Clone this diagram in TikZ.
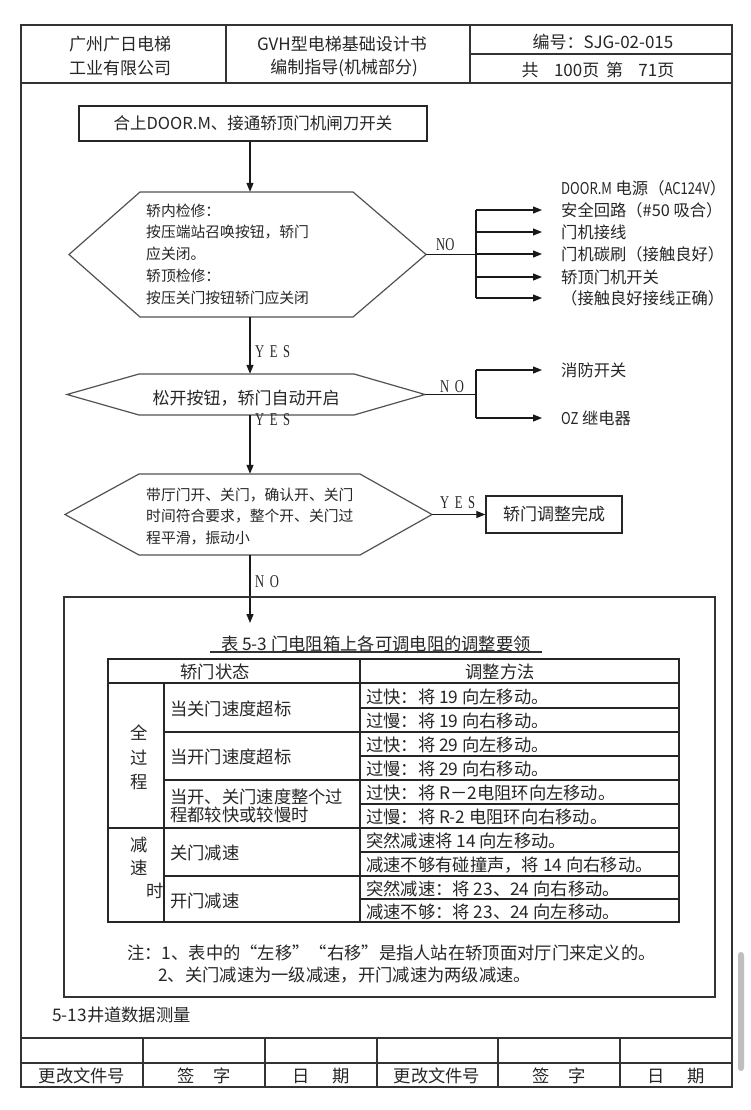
\documentclass[tikz,border=0pt]{standalone}
\usepackage{fontspec}
\usepackage{graphicx}
\setmainfont{Noto Sans CJK SC}
\newfontfamily\latinserif{Liberation Serif}
\usetikzlibrary{arrows.meta,calc}
\newcommand{\cond}[1]{\scalebox{0.7}[1]{\latinserif #1}}
\newcommand{\nlat}[1]{\scalebox{0.8}[1]{#1}}
\begin{document}
\begin{tikzpicture}[x=1pt,y=-1pt,
  frame/.style={line width=1.1pt, draw=black!80},
  fline/.style={line width=1.2pt, draw=black!90},
  arr/.style={line width=1.2pt, draw=black!90, -{Triangle[length=9pt,width=7pt]}},
  hexline/.style={line width=1.2pt, draw=black!68},
  tline/.style={line width=1.2pt, draw=black!85},
  box/.style={draw=black!85, line width=1.3pt, inner sep=0pt, anchor=center},
  ghost/.style={inner sep=0pt, anchor=center},
  ftxt/.style={font=\fontsize{14.8}{21.8}\selectfont, inner sep=0pt, text=black!85},
  btxt/.style={font=\fontsize{16.3}{20}\selectfont, inner sep=0pt, anchor=west, text=black!85},
  lab/.style={font=\fontsize{18}{18}\selectfont, inner sep=0pt, anchor=west, text=black!85},
  ttxt/.style={font=\fontsize{17.3}{18}\selectfont, inner sep=0pt, text=black!85},
  htxt/.style={font=\fontsize{17}{20}\selectfont, inner sep=0pt, text=black!85},
]
\useasboundingbox (0,0) rectangle (750,1110);
\fill[white] (0,0) rectangle (750,1110);

% ---------- page frame and header ----------
\draw[frame] (21,25) rectangle (732,1087);
\draw[frame] (21,83) -- (732,83);
\draw[frame] (226,25) -- (226,83);
\draw[frame] (470,25) -- (470,83);
\draw[frame] (470,54) -- (732,54);
\node[htxt] (hA1) at (120,44) {广州广日电梯};
\node[htxt] (hA2) at (120,68) {工业有限公司};
\node[htxt] (hB1) at (342,44) {GVH型电梯基础设计书};
\node[htxt] (hB2) at (344,68) {编制指导(机械部分)};
\node[htxt] (hC1) at (603,42) {编号：SJG-02-015};
\node[htxt] (hC2) at (598,70) {共\hspace{0.9em}100页\hspace{0.4em}第\hspace{0.9em}71页};

% ---------- flowchart ----------
\coordinate (spine) at (250,0);
\node[box, minimum width=348pt, minimum height=35pt, font=\fontsize{16.5}{20}\selectfont, text=black!85] (b1) at (253,123.5) {合上DOOR.M、接通轿顶门机闸刀开关};

% hexagon 1
\node[ghost, minimum width=357pt, minimum height=125pt] (h1) at (247.5,254.5) {};
\draw[hexline] (69,254.5) -- (140,192) -- (353,192) -- (426,254.5) -- (353,317) -- (140,317) -- cycle;
\node[ftxt, anchor=west, align=left] (h1t) at (146,254) {轿内检修：\\按压端站召唤按钮，轿门\\应关闭。\\轿顶检修：\\按压关门按钮轿门应关闭};
\draw[arr] (spine |- b1.south) -- (spine |- h1.north);

\coordinate (j1) at (476,254.5);
\draw[fline] (h1.east) -- (j1);
\node[lab] (no1) at (436,245) {\cond{NO}};
\node[btxt] (r0) at (561,188) {\nlat{DOOR.M} 电源（\nlat{AC124V}）};
\node[btxt] (r1) at (561,210) {安全回路（\#50 吸合）};
\node[btxt] (r2) at (561,232) {门机接线};
\node[btxt] (r3) at (561,254) {门机碳刷（接触良好）};
\node[btxt] (r4) at (561,277) {轿顶门机开关};
\node[btxt] (r5) at (561,298) {（接触良好接线正确）};
\draw[fline] (j1 |- r1.west) -- (j1 |- r5.west);
\foreach \n in {r1,r2,r3,r4,r5}
  \draw[arr] (j1 |- \n.west) -- ([xshift=-19pt]\n.west);

% hexagon 2
\node[lab] (yes1) at (255,352) {\cond{Y\kern8pt E\kern8pt S}};
\node[ghost, minimum width=358pt, minimum height=41pt] (h2) at (246,394.5) {};
\draw[hexline] (67,394.5) -- (139,374) -- (354,374) -- (425,394.5) -- (354,415) -- (139,415) -- cycle;
\node[ftxt, font=\fontsize{17}{20}\selectfont] (h2t) at (246,398.5) {松开按钮，轿门自动开启};
\draw[arr] (spine |- h1.south) -- (spine |- h2.north);

\coordinate (j2) at (476,394.5);
\draw[fline] (h2.east) -- (j2);
\node[lab] (no2) at (440,387) {\cond{N\kern8pt O}};
\node[btxt] (r6) at (561,370) {消防开关};
\node[btxt] (r7) at (561,418) {\nlat{OZ} 继电器};
\draw[fline] (j2 |- r6.west) -- (j2 |- r7.west);
\draw[arr] (j2 |- r6.west) -- ([xshift=-19pt]r6.west);
\draw[arr] (j2 |- r7.west) -- ([xshift=-19pt]r7.west);
\node[lab] (yes2) at (255,420) {\cond{Y\kern8pt E\kern8pt S}};

% hexagon 3
\node[ghost, minimum width=367pt, minimum height=81pt] (h3) at (248.5,514.5) {};
\draw[hexline] (65,514.5) -- (139,474) -- (360,474) -- (432,514.5) -- (360,555) -- (139,555) -- cycle;
\node[ftxt, anchor=west, align=left] (h3t) at (146,516.5) {带厅门开、关门，确认开、关门\\时间符合要求，整个开、关门过\\程平滑，振动小};
\draw[arr] (spine |- h2.south) -- (spine |- h3.north);

\node[box, minimum width=136pt, minimum height=37pt, font=\fontsize{17}{20}\selectfont, text=black!85] (done) at (554,514.5) {轿门调整完成};
\draw[arr] (h3.east) -- (done.west);
\node[lab] (yes3) at (440,503) {\cond{Y\kern8pt E\kern8pt S}};

\node[lab] (no3) at (255,582) {\cond{N\kern8pt O}};
\coordinate (tip) at (250,623);
\draw[arr] (spine |- h3.south) -- (tip);

% ---------- table frame ----------
\draw[frame] (64,597) rectangle (715,997);
\node[ttxt] (cap) at (376,644) {表 5-3 门电阻箱上各可调电阻的调整要领};
\draw[line width=1.1pt, draw=black!80] (210,652) -- (542,652);

\draw[tline] (108,659) rectangle (679,922);
\draw[tline] (108,683) -- (679,683);
\draw[tline] (108,828) -- (679,828);
\draw[tline] (164,683) -- (164,922);
\draw[tline] (360,659) -- (360,922);
\foreach \yy in {732,780,876} \draw[tline] (164,\yy) -- (679,\yy);
\foreach \yy in {708,756,804,852,899} \draw[tline] (360,\yy) -- (679,\yy);

\node[ttxt] (th1) at (215,672) {轿门状态};
\node[ttxt] (th2) at (500,672) {调整方法};
\node[ttxt, align=center, font=\fontsize{17.3}{24.5}\selectfont] (g1) at (139,757.5) {全\\过\\程};
\node[ttxt] (g2a) at (139,845) {减};
\node[ttxt] (g2b) at (139,868) {速};
\node[ttxt] (g2c) at (155,891) {时};

\node[ttxt, anchor=west] (m1) at (170,709) {当关门速度超标};
\node[ttxt, anchor=west] (m2) at (170,757) {当开门速度超标};
\node[ttxt, anchor=west, align=left, font=\fontsize{17.3}{18}\selectfont] (m3) at (170,806) {当开、关门速度整个过\\程都较快或较慢时};
\node[ttxt, anchor=west] (m4) at (170,853) {关门减速};
\node[ttxt, anchor=west] (m5) at (170,901) {开门减速};

\node[ttxt, anchor=west] (c1) at (366,697) {过快：将 19 向左移动。};
\node[ttxt, anchor=west] (c2) at (366,721) {过慢：将 19 向右移动。};
\node[ttxt, anchor=west] (c3) at (366,745) {过快：将 29 向左移动。};
\node[ttxt, anchor=west] (c4) at (366,769) {过慢：将 29 向右移动。};
\node[ttxt, anchor=west] (c5) at (366,793) {过快：将 R－2电阻环向左移动。};
\node[ttxt, anchor=west] (c6) at (366,817) {过慢：将 R-2 电阻环向右移动。};
\node[ttxt, anchor=west] (c7) at (366,841) {突然减速将 14 向左移动。};
\node[ttxt, anchor=west] (c8) at (366,865) {减速不够有碰撞声，将 14 向右移动。};
\node[ttxt, anchor=west] (c9) at (366,889) {突然减速：将 23、24 向右移动。};
\node[ttxt, anchor=west] (c10) at (366,912) {减速不够：将 23、24 向左移动。};

\node[ttxt, anchor=west] (n1) at (127,953) {注：1、表中的“左移”“右移”是指人站在轿顶面对厅门来定义的。};
\node[ttxt, anchor=west] (n2) at (158,975) {2、关门减速为一级减速，开门减速为两级减速。};

\node[ttxt, anchor=west] (sec) at (52,1015) {5-13井道数据测量};

% ---------- footer ----------
\draw[frame] (21,1038) -- (732,1038);
\draw[frame] (21,1063) -- (732,1063);
\foreach \xx in {143,265,377,498,620} \draw[frame] (\xx,1038) -- (\xx,1087);
\node[ttxt] (f1) at (82,1076) {更改文件号};
\node[ttxt] (f2) at (204,1076) {签\hspace{1.1em}字};
\node[ttxt] (f3) at (321,1076) {日\hspace{1.3em}期};
\node[ttxt] (f4) at (437,1076) {更改文件号};
\node[ttxt] (f5) at (559,1076) {签\hspace{1.1em}字};
\node[ttxt] (f6) at (676,1076) {日\hspace{1.3em}期};

% scrollbar mark
\fill[black!25, rounded corners=3pt] (738,952) rectangle (744,1071);
\end{tikzpicture}
\end{document}
